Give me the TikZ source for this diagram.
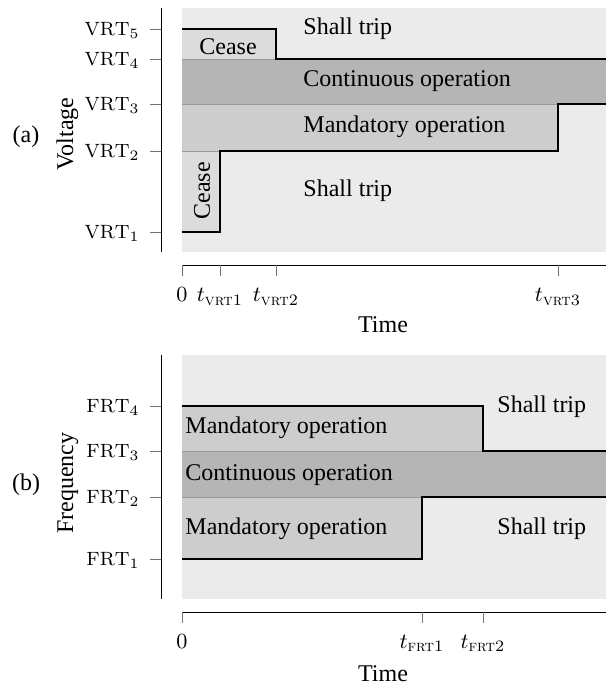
\documentclass[tikz,border=0pt]{standalone}
\usepackage{amsmath}
\usepackage{fontspec}
\newfontfamily\timesfont{Liberation Serif}
\usetikzlibrary{positioning}

\definecolor{tripgray}{HTML}{EBEBEB}
\definecolor{ceasegray}{HTML}{DCDCDC}
\definecolor{mandgray}{HTML}{CDCDCD}
\definecolor{contgray}{HTML}{B5B5B5}

\begin{document}
\begin{tikzpicture}[x=0.4167pt, y=-0.4167pt]

    \tikzstyle{region} = [font=\timesfont\fontsize{10}{12}\selectfont, inner sep=0pt]
    \tikzstyle{ylab} = [anchor=base east, inner sep=0pt, font=\fontsize{8}{9}\selectfont]
    \tikzstyle{xlab} = [anchor=base, inner sep=0pt, font=\fontsize{9.5}{11}\selectfont]
    \tikzstyle{axisline} = [black, line width=0.4pt]
    \tikzstyle{tickline} = [black!55, line width=0.3pt]
    \tikzstyle{sepline} = [black!40, line width=0.4pt]
    \tikzstyle{limit} = [black, line width=0.6pt]

    \useasboundingbox (0,0) rectangle (608,685);

    % (a) voltage ride-through
    \fill[tripgray] (182,8) rectangle (606,252);
    \fill[ceasegray] (182,29) rectangle (276,59);
    \fill[contgray] (182,59) rectangle (606,104);
    \fill[mandgray] (182,104) rectangle (558,151);
    \fill[ceasegray] (182,151) rectangle (220,232);
    \draw[sepline] (182,59) -- (276,59) (182,104) -- (558,104) (182,151) -- (220,151);
    \draw[limit] (182,29) -| (276,59) -- (606,59);
    \draw[limit] (182,232) -| (220,151) -| (558,104) -- (606,104);

    \draw[axisline] (161,8) -- (161,252);
    \foreach \y/\n in {29/5, 59/4, 104/3, 151/2, 232/1} {
        \draw[tickline] (150,\y) -- (161,\y);
        \node[ylab] (vrt\n) at (140,\y+6.5) {$\mathrm{VRT}_{\n}$};
    }
    \draw[axisline] (182,265) -- (606,265);
    \foreach \x/\n in {220/1, 276/2, 558/3} {
        \draw[tickline] (\x,265) -- (\x,276);
        \node[xlab] (tv\n) at (\x,302) {$t_{\text{\textsc{vrt}\n}}$};
    }
    \draw[tickline] (182,265) -- (182,276);
    \node[xlab] (zeroa) at (182,302) {$0$};

    \node[region, anchor=base west] (tripa1) at (303,35) {Shall trip};
    \node[region] (ceasea1) at (228,47) {Cease};
    \node[region, anchor=base west] (conta) at (303,87) {Continuous operation};
    \node[region, anchor=base west] (manda) at (303,133) {Mandatory operation};
    \node[region, anchor=base west] (tripa2) at (303,197) {Shall trip};
    \node[region, rotate=90] (ceasea2) at (202,191) {Cease};

    \node[region] (tagA) at (26,137) {(a)};
    \node[region, rotate=90, anchor=base] (voltage) at (73,134) {Voltage};
    \node[region, anchor=base] (timea) at (383,333) {Time};

    % (b) frequency ride-through
    \fill[tripgray] (182,355) rectangle (606,599);
    \fill[mandgray] (182,406) rectangle (483,451);
    \fill[contgray] (182,451) rectangle (606,497);
    \fill[mandgray] (182,497) rectangle (422,559);
    \draw[sepline] (182,451) -- (483,451) (182,497) -- (422,497);
    \draw[limit] (182,406) -| (483,451) -- (606,451);
    \draw[limit] (182,559) -| (422,497) -- (606,497);

    \draw[axisline] (161,355) -- (161,599);
    \foreach \y/\n in {406/4, 451/3, 497/2, 559/1} {
        \draw[tickline] (150,\y) -- (161,\y);
        \node[ylab] (frt\n) at (140,\y+6.5) {$\mathrm{FRT}_{\n}$};
    }
    \draw[axisline] (182,612) -- (606,612);
    \foreach \x/\n in {422/1, 483/2} {
        \draw[tickline] (\x,612) -- (\x,623);
        \node[xlab] (tf\n) at (\x,648) {$t_{\text{\textsc{frt}\n}}$};
    }
    \draw[tickline] (182,612) -- (182,623);
    \node[xlab] (zerob) at (182,648) {$0$};

    \node[region, anchor=base west] (mandb1) at (185,434) {Mandatory operation};
    \node[region, anchor=base west] (contb) at (185,480) {Continuous operation};
    \node[region, anchor=base west] (mandb2) at (185,534) {Mandatory operation};
    \node[region, anchor=base west] (tripb1) at (497,413) {Shall trip};
    \node[region, anchor=base west] (tripb2) at (497,534) {Shall trip};

    \node[region] (tagB) at (26,485) {(b)};
    \node[region, rotate=90, anchor=base] (frequency) at (73,483) {Frequency};
    \node[region, anchor=base] (timeb) at (383,681) {Time};
\end{tikzpicture}
\end{document}
